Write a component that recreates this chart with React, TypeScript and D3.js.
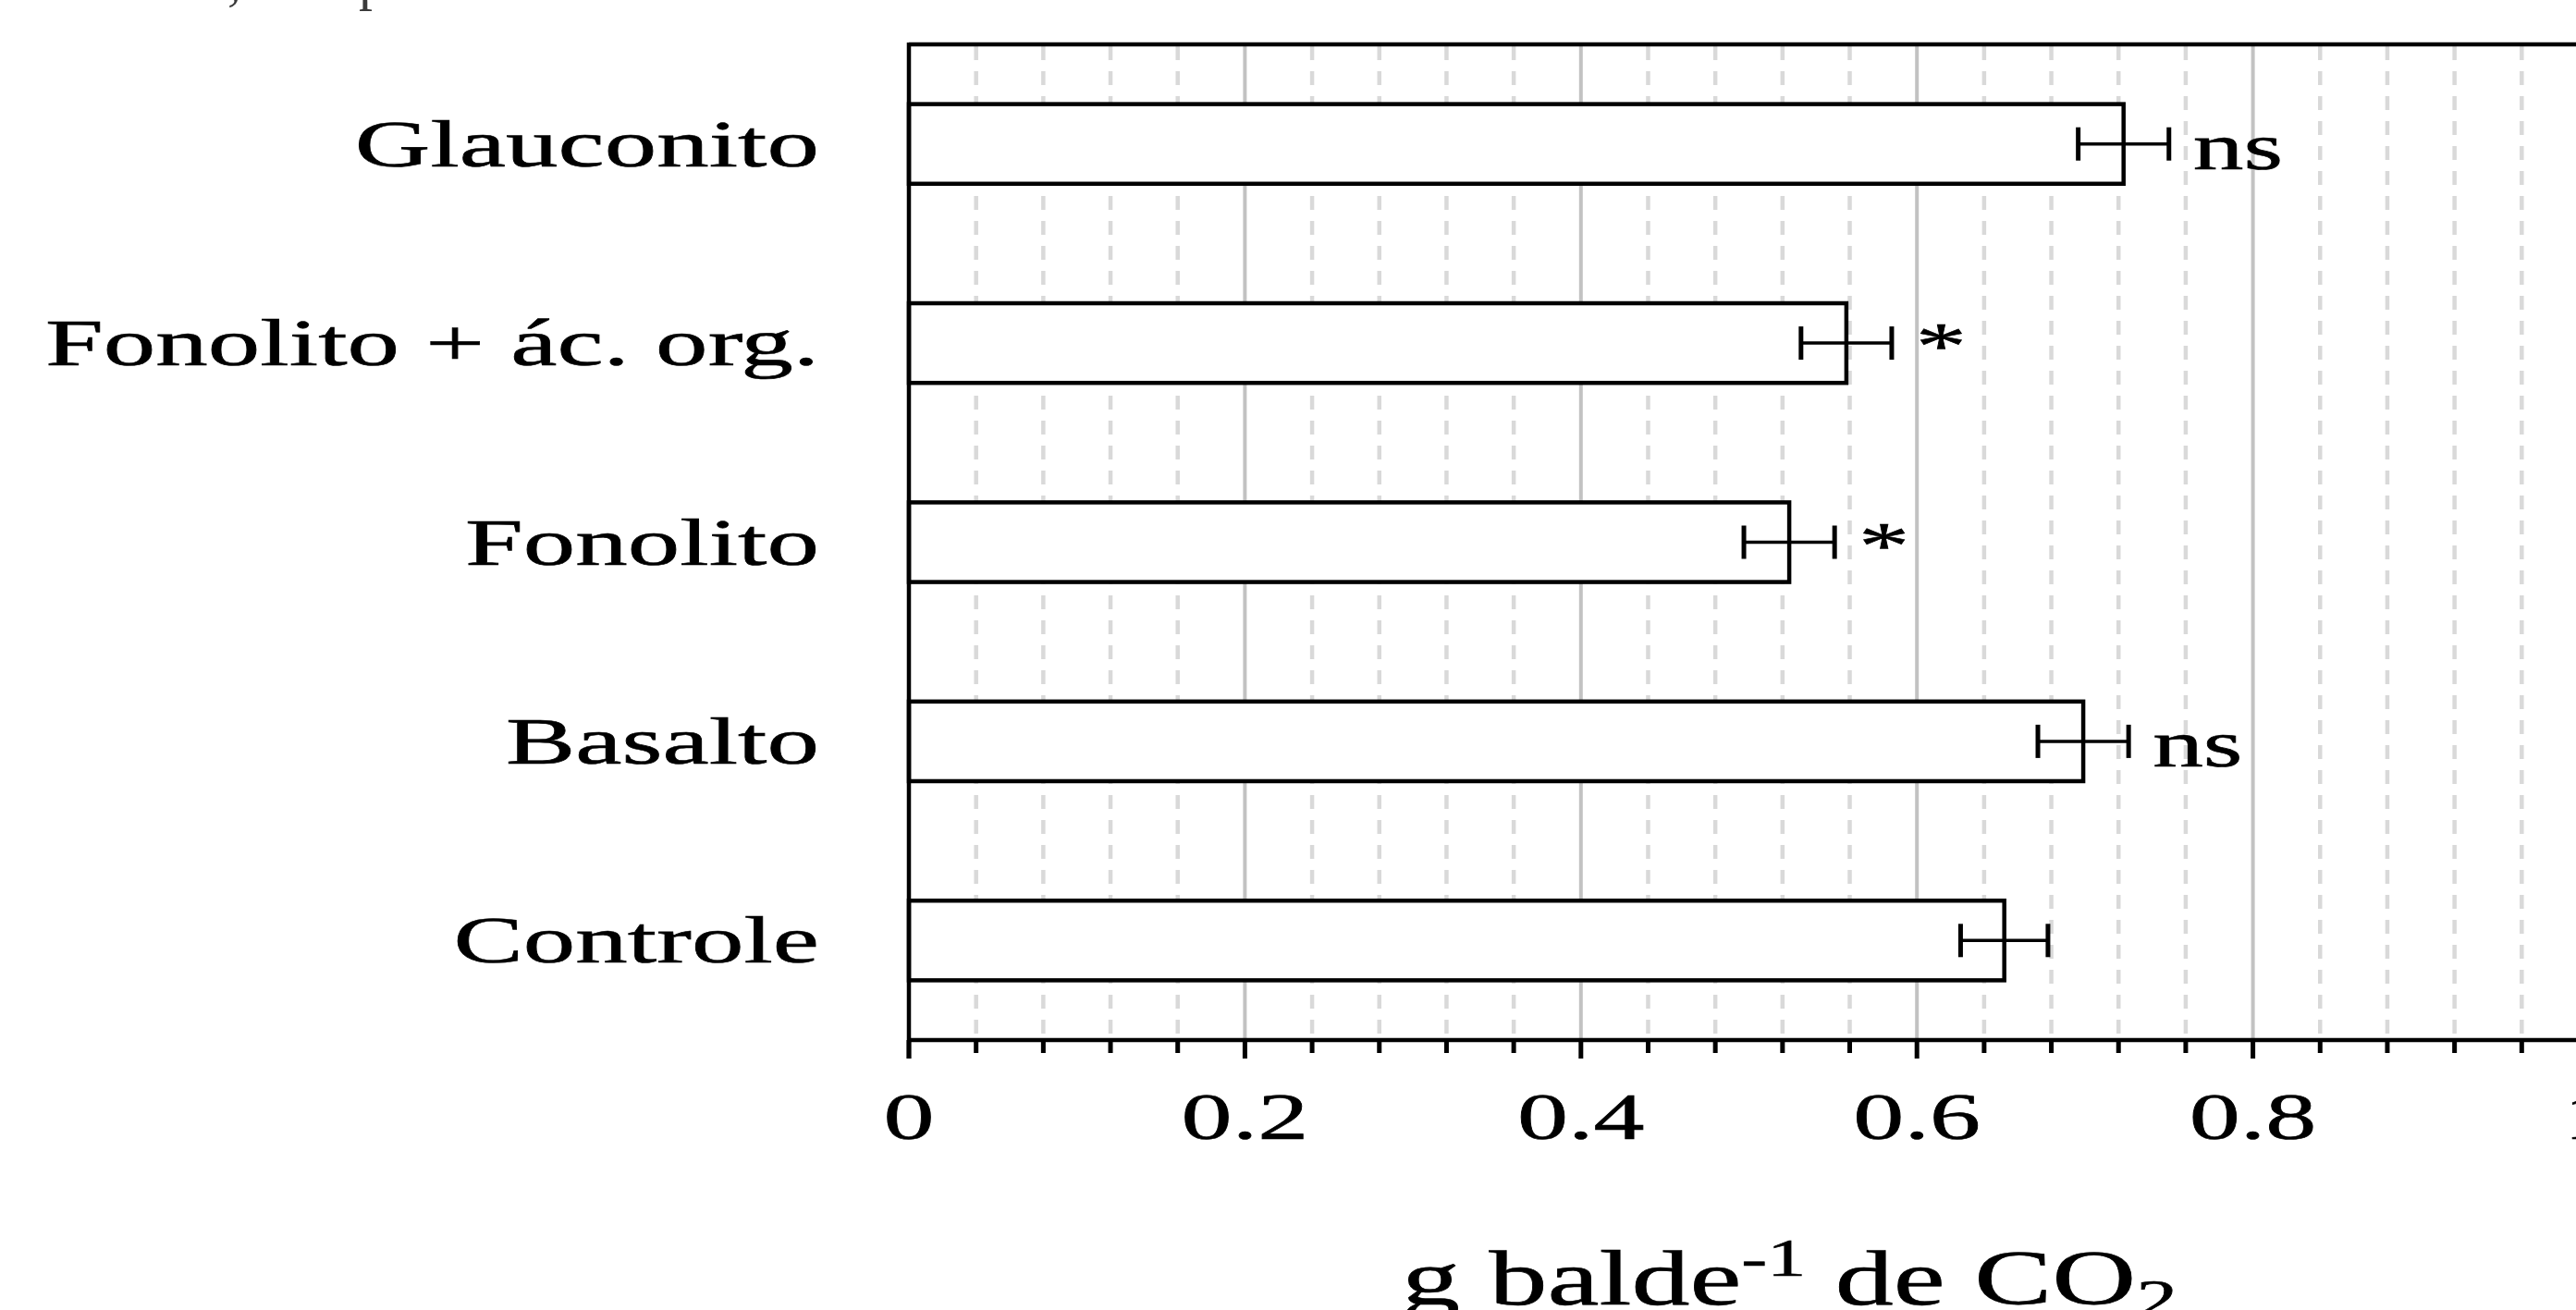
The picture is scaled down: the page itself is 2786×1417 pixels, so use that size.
import * as d3 from "d3";

// Treatments, top to bottom
const categories = ["Glauconito", "Fonolito + ác. org.", "Fonolito", "Basalto", "Controle"];
// mean g balde-1 de CO2
const values = [0.723, 0.558, 0.524, 0.699, 0.652];
// error bar half-widths
const errors = [0.027, 0.027, 0.027, 0.027, 0.026];
// significance marks next to the bars
const marks = ["ns", "*", "*", "ns", ""];

const majorTicks = [0, 0.2, 0.4, 0.6, 0.8, 1];
const tickLabels = ["0", "0.2", "0.4", "0.6", "0.8", "1"];
const minorStep = 0.04;

const width = 2786;
const height = 1417;
const plotLeft = 983;
const plotRight = 2800;
const plotTop = 48;
const plotBottom = 1125;

const FONT = "'Liberation Serif', 'Times New Roman', serif";

const STxt = ({ x, y, anchor = "start", size = 72, sx = 1.5, children }: any) => (
  <text
    transform={`translate(${x},${y}) scale(${sx},1)`}
    textAnchor={anchor}
    fontFamily={FONT}
    fontSize={size}
    fill="#000"
    stroke="#000"
    strokeWidth={0.6}
  >
    {children}
  </text>
);

export default function App() {
  const x = d3.scaleLinear().domain([0, 1]).range([plotLeft, plotRight]);
  const y = d3
    .scaleBand<string>()
    .domain(categories)
    .range([plotTop, plotBottom])
    .paddingInner(0.6)
    .paddingOuter(0.3);

  const minorTicks = d3
    .range(0, Math.round(1 / minorStep) + 1)
    .map((i) => +(i * minorStep).toFixed(2))
    .filter((t) => !majorTicks.some((m) => Math.abs(m - t) < 1e-6));

  const bw = y.bandwidth();

  return (
    <svg
      width={width}
      height={height}
      style={{ position: "absolute", left: 0, top: 0, display: "block", background: "#fff" }}
    >
      {/* cut-off caption line from above */}
      <text x={246} y={-1} fontFamily={FONT} fontSize={60} fill="#3a3a3a">,</text>
      <text x={388} y={-1} fontFamily={FONT} fontSize={60} fill="#3a3a3a">p</text>

      {/* grid */}
      {minorTicks.map((t) => (
        <line
          key={"mg" + t}
          x1={x(t)}
          x2={x(t)}
          y1={plotTop + 2}
          y2={plotBottom - 2}
          stroke="#d9d9d9"
          strokeWidth={4.5}
          strokeDasharray="15 12"
        />
      ))}
      {majorTicks.slice(1).map((t) => (
        <line
          key={"Mg" + t}
          x1={x(t)}
          x2={x(t)}
          y1={plotTop}
          y2={plotBottom}
          stroke="#c2c2c2"
          strokeWidth={4}
        />
      ))}

      {/* bars */}
      {categories.map((c, i) => (
        <rect
          key={c}
          x={x(0)}
          y={y(c)!}
          width={x(values[i]) - x(0)}
          height={bw}
          fill="#fff"
          stroke="#000"
          strokeWidth={4.5}
        />
      ))}

      {/* error bars */}
      {categories.map((c, i) => {
        const cy = y(c)! + bw / 2;
        const lo = x(values[i] - errors[i]);
        const hi = x(values[i] + errors[i]);
        return (
          <g key={"e" + c} stroke="#000">
            <line x1={lo} x2={hi} y1={cy} y2={cy} strokeWidth={3.5} />
            <line x1={lo} x2={lo} y1={cy - 18} y2={cy + 18} strokeWidth={5} />
            <line x1={hi} x2={hi} y1={cy - 18} y2={cy + 18} strokeWidth={5} />
          </g>
        );
      })}

      {/* significance */}
      {categories.map((c, i) =>
        marks[i] ? (
          <STxt key={"s" + c} x={x(values[i] + errors[i]) + 26} y={y(c)! + bw / 2 + 27} sx={1.52}>
            {marks[i]}
          </STxt>
        ) : null
      )}

      {/* frame */}
      <line x1={plotLeft} x2={plotRight} y1={plotTop} y2={plotTop} stroke="#000" strokeWidth={4.5} />
      <line x1={plotLeft} x2={plotLeft} y1={plotTop - 2} y2={plotBottom + 20} stroke="#000" strokeWidth={4.5} />
      <line x1={plotLeft - 2} x2={plotRight} y1={plotBottom} y2={plotBottom} stroke="#000" strokeWidth={4.5} />

      {/* x ticks */}
      {majorTicks.map((t) => (
        <line key={"Mt" + t} x1={x(t)} x2={x(t)} y1={plotBottom} y2={plotBottom + 20} stroke="#000" strokeWidth={5} />
      ))}
      {minorTicks.map((t) => (
        <line key={"mt" + t} x1={x(t)} x2={x(t)} y1={plotBottom} y2={plotBottom + 14} stroke="#000" strokeWidth={5} />
      ))}
      {majorTicks.map((t, i) => (
        <STxt key={"tl" + t} x={x(t)} y={1232} anchor="middle" sx={1.53}>
          {tickLabels[i]}
        </STxt>
      ))}

      {/* category labels */}
      {categories.map((c) => (
        <STxt key={"cl" + c} x={886} y={y(c)! + bw / 2 + 24} anchor="end" sx={1.57}>
          {c}
        </STxt>
      ))}

      {/* axis title */}
      <text
        transform={`translate(1516,1411) scale(1.5,1)`}
        fontFamily={FONT}
        fontSize={84}
        fill="#000"
        stroke="#000"
        strokeWidth={0.6}
      >
        g balde
        <tspan fontSize={56} dy={-31}>-1</tspan>
        <tspan dy={31}> de CO</tspan>
        <tspan fontSize={60} dy={14}>2</tspan>
      </text>
    </svg>
  );
}
